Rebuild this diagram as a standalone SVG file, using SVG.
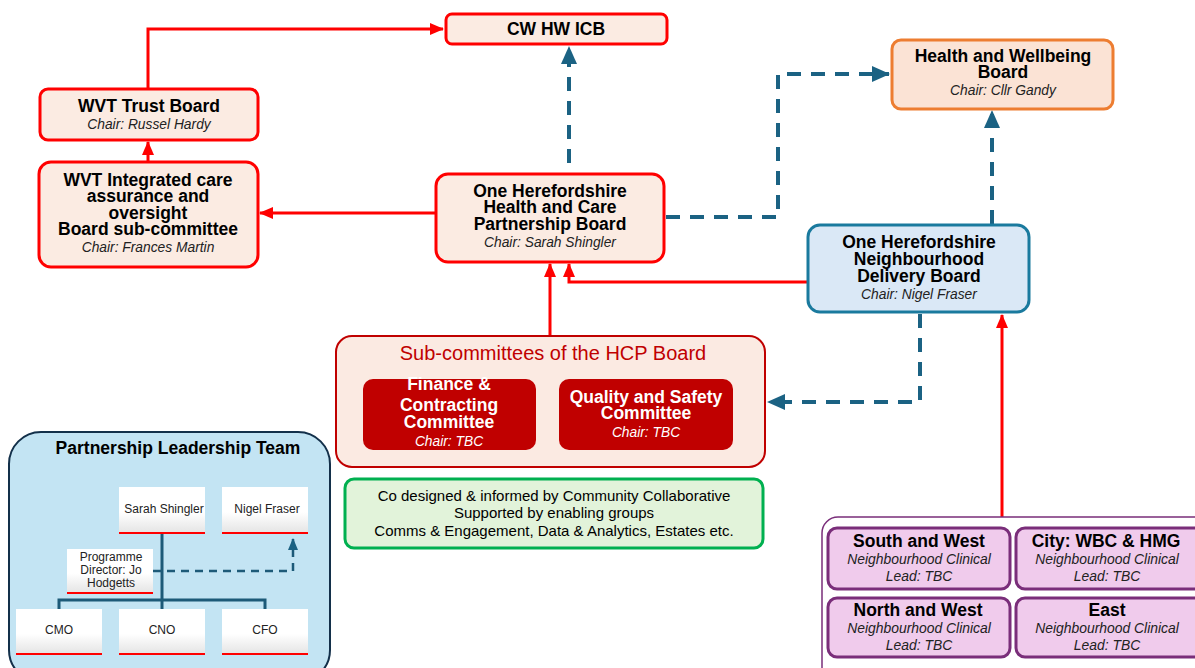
<svg xmlns="http://www.w3.org/2000/svg" width="1195" height="668" viewBox="0 0 1195 668">
  <defs>
    <style>
      text { font-family: "Liberation Sans", Arial, sans-serif; fill: #000; text-anchor: middle; }
      .t { font-size: 17.5px; font-weight: bold; }
      .c { font-size: 13.8px; font-style: italic; fill: #222; }
      .w { fill: #fff; }
      .box { fill: #FBEBE2; stroke: #FF0000; stroke-width: 3; }
      .red { fill: none; stroke: #FF0000; stroke-width: 3; }
      .dash { fill: none; stroke: #1B6283; stroke-width: 4; stroke-dasharray: 14 10; }
      .card { fill: url(#cardGrad); }
      .cardline { stroke: #FF0000; stroke-width: 2; }
      .ct { font-size: 12px; fill: #222; }
      .hood { fill: #F0CBEC; stroke: #7A2E7A; stroke-width: 3; }
      .hc { font-size: 13.9px; font-style: italic; fill: #222; }
    </style>
    <linearGradient id="cardGrad" x1="0" y1="0" x2="0" y2="1">
      <stop offset="0" stop-color="#ffffff"/>
      <stop offset="0.55" stop-color="#ffffff"/>
      <stop offset="1" stop-color="#e4e4e4"/>
    </linearGradient>
    <marker id="arRed" markerUnits="userSpaceOnUse" markerWidth="14" markerHeight="14" viewBox="0 0 14 14" refX="13" refY="7" orient="auto">
      <path d="M0,1 L14,7 L0,13 Z" fill="#FF0000"/>
    </marker>
    <marker id="arTeal" markerUnits="userSpaceOnUse" markerWidth="18" markerHeight="18" viewBox="0 0 18 18" refX="17" refY="9" orient="auto">
      <path d="M0,1 L18,9 L0,17 Z" fill="#1B6283"/>
    </marker>
    <marker id="arTealS" markerUnits="userSpaceOnUse" markerWidth="12" markerHeight="12" viewBox="0 0 12 12" refX="11" refY="6" orient="auto">
      <path d="M0,1 L12,6 L0,11 Z" fill="#1B6283"/>
    </marker>
  </defs>

  <!-- connectors -->
  <g id="connectors">
    <polyline class="red" points="148,89 148,29 443,29" marker-end="url(#arRed)"/>
    <line class="red" x1="148" y1="162" x2="148" y2="142" marker-end="url(#arRed)"/>
    <line class="red" x1="435" y1="213" x2="260" y2="213" marker-end="url(#arRed)"/>
    <line class="red" x1="550" y1="336" x2="550" y2="264" marker-end="url(#arRed)"/>
    <polyline class="red" points="807,282 569,282 569,264" marker-end="url(#arRed)"/>
    <line class="red" x1="1002" y1="517" x2="1002" y2="315" marker-end="url(#arRed)"/>
    <line class="dash" x1="569" y1="163" x2="569" y2="47" marker-end="url(#arTeal)"/>
    <polyline class="dash" points="666,217 778,217 778,74 889,74" marker-end="url(#arTeal)"/>
    <line class="dash" x1="992" y1="224" x2="992" y2="111" marker-end="url(#arTeal)"/>
    <polyline class="dash" points="920,314 920,402 768,402" marker-end="url(#arTeal)"/>
  </g>

  <!-- top-level boards -->
  <g id="icb">
    <rect class="box" x="446" y="14" width="221" height="30" rx="6"/>
    <text class="t" x="556" y="35">CW HW ICB</text>
  </g>

  <g id="wvt-trust">
    <rect class="box" x="40" y="89" width="218" height="51" rx="8"/>
    <text class="t" x="149" y="112">WVT Trust Board</text>
    <text class="c" x="149" y="129">Chair: Russel Hardy</text>
  </g>

  <g id="wvt-subcommittee">
    <rect class="box" x="39" y="162" width="219" height="105" rx="12"/>
    <text class="t" x="148" y="186">WVT Integrated care</text>
    <text class="t" x="148" y="202">assurance and</text>
    <text class="t" x="148" y="219">oversight</text>
    <text class="t" x="148" y="235">Board sub-committee</text>
    <text class="c" x="148" y="252">Chair: Frances Martin</text>
  </g>

  <g id="hcp-board">
    <rect class="box" x="436" y="174" width="228" height="88" rx="12"/>
    <text class="t" x="550" y="197">One Herefordshire</text>
    <text class="t" x="550" y="213">Health and Care</text>
    <text class="t" x="550" y="230">Partnership Board</text>
    <text class="c" x="550" y="247">Chair: Sarah Shingler</text>
  </g>

  <g id="hwb">
    <rect x="892" y="40" width="221" height="69" rx="9" fill="#FBE3D5" stroke="#ED7D31" stroke-width="3"/>
    <text class="t" x="1003" y="62">Health and Wellbeing</text>
    <text class="t" x="1003" y="78">Board</text>
    <text class="c" x="1003" y="95">Chair: Cllr Gandy</text>
  </g>

  <g id="delivery-board">
    <rect x="808" y="225" width="221" height="87" rx="12" fill="#DAE8F6" stroke="#1A7A9E" stroke-width="3"/>
    <text class="t" x="919" y="248">One Herefordshire</text>
    <text class="t" x="919" y="265">Neighbourhood</text>
    <text class="t" x="919" y="282">Delivery Board</text>
    <text class="c" x="919" y="299">Chair: Nigel Fraser</text>
  </g>

  <!-- HCP sub-committees -->
  <g id="subcommittees">
    <rect x="336" y="336" width="429" height="131" rx="16" fill="#FBEAE2" stroke="#C00000" stroke-width="2"/>
    <text x="553" y="360" font-size="20" style="fill:#C00000">Sub-committees of the HCP Board</text>
  </g>
  <g id="finance">
    <rect x="363" y="379" width="173" height="71" rx="10" fill="#C00000"/>
    <text class="t w" x="449" y="390">Finance &amp;</text>
    <text class="t w" x="449" y="411">Contracting</text>
    <text class="t w" x="449" y="428">Committee</text>
    <text class="c w" x="449" y="446" style="fill:#fff">Chair: TBC</text>
  </g>
  <g id="quality">
    <rect x="559" y="379" width="174" height="71" rx="10" fill="#C00000"/>
    <text class="t w" x="646" y="403">Quality and Safety</text>
    <text class="t w" x="646" y="419">Committee</text>
    <text class="c w" x="646" y="437" style="fill:#fff">Chair: TBC</text>
  </g>

  <g id="community">
    <rect x="345" y="479" width="418" height="69" rx="9" fill="#E2F3DA" stroke="#00B050" stroke-width="3"/>
    <text x="554" y="501" font-size="15" fill="#222">Co designed &amp; informed by Community Collaborative</text>
    <text x="554" y="518" font-size="15" fill="#222">Supported by enabling groups</text>
    <text x="554" y="536" font-size="15" fill="#222">Comms &amp; Engagement, Data &amp; Analytics, Estates etc.</text>
  </g>

  <!-- leadership team -->
  <g id="leadership-team">
    <rect x="9" y="432" width="321" height="250" rx="32" fill="#C3E4F3" stroke="#13304A" stroke-width="2"/>
    <text class="t" x="178" y="454">Partnership Leadership Team</text>
    <g fill="none" stroke="#1D5A78" stroke-width="3">
      <polyline points="162,533 162,609"/>
      <polyline points="59,609 59,600 265,600 265,609"/>
    </g>
    <polyline points="153,571 293,571 293,539" fill="none" stroke="#1D5A78" stroke-width="2.5" stroke-dasharray="8 6" marker-end="url(#arTealS)"/>
  </g>
  <g id="lt-sarah">
    <rect class="card" x="119" y="487" width="86" height="46"/>
    <line class="cardline" x1="119" y1="533" x2="205" y2="533"/>
    <text class="ct" x="164" y="513">Sarah Shingler</text>
  </g>
  <g id="lt-nigel">
    <rect class="card" x="222" y="487" width="86" height="46"/>
    <line class="cardline" x1="222" y1="533" x2="308" y2="533"/>
    <text class="ct" x="267" y="513">Nigel Fraser</text>
  </g>
  <g id="lt-programme">
    <rect class="card" x="67" y="549" width="86" height="44"/>
    <line class="cardline" x1="67" y1="593" x2="153" y2="593"/>
    <text class="ct" x="111" y="561">Programme</text>
    <text class="ct" x="111" y="574">Director: Jo</text>
    <text class="ct" x="111" y="587">Hodgetts</text>
  </g>
  <g id="lt-cmo">
    <rect class="card" x="16" y="609" width="86" height="45"/>
    <line class="cardline" x1="16" y1="654" x2="102" y2="654"/>
    <text class="ct" x="59" y="634">CMO</text>
  </g>
  <g id="lt-cno">
    <rect class="card" x="119" y="609" width="86" height="45"/>
    <line class="cardline" x1="119" y1="654" x2="205" y2="654"/>
    <text class="ct" x="162" y="634">CNO</text>
  </g>
  <g id="lt-cfo">
    <rect class="card" x="222" y="609" width="86" height="45"/>
    <line class="cardline" x1="222" y1="654" x2="308" y2="654"/>
    <text class="ct" x="265" y="634">CFO</text>
  </g>

  <!-- neighbourhoods -->
  <g id="neighbourhoods">
    <rect x="822" y="517" width="400" height="170" rx="16" fill="#fff" stroke="#7A2E7A" stroke-width="1.5"/>
  </g>
  <g id="south-west">
    <rect class="hood" x="828" y="528" width="182" height="61" rx="9"/>
    <text class="t" x="919" y="547">South and West</text>
    <text class="hc" x="919" y="564">Neighbourhood Clinical</text>
    <text class="hc" x="919" y="581">Lead: TBC</text>
  </g>
  <g id="city">
    <rect class="hood" x="1016" y="528" width="190" height="61" rx="9"/>
    <text class="t" x="1106" y="547">City: WBC &amp; HMG</text>
    <text class="hc" x="1107" y="564">Neighbourhood Clinical</text>
    <text class="hc" x="1107" y="581">Lead: TBC</text>
  </g>
  <g id="north-west">
    <rect class="hood" x="828" y="598" width="182" height="59" rx="9"/>
    <text class="t" x="918" y="616">North and West</text>
    <text class="hc" x="919" y="633">Neighbourhood Clinical</text>
    <text class="hc" x="919" y="650">Lead: TBC</text>
  </g>
  <g id="east">
    <rect class="hood" x="1016" y="598" width="190" height="59" rx="9"/>
    <text class="t" x="1107" y="616">East</text>
    <text class="hc" x="1107" y="633">Neighbourhood Clinical</text>
    <text class="hc" x="1107" y="650">Lead: TBC</text>
  </g>
</svg>
